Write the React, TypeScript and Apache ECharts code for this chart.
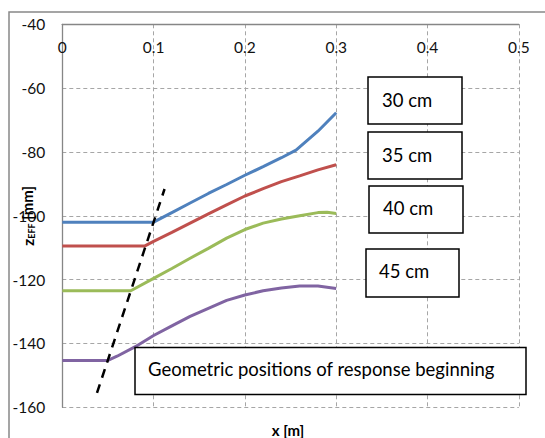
import React, { useEffect, useRef } from "react";
import * as echarts from "echarts";

// x positions [m] and effective depth z_EFF [mm] for each nominal depth
const x30 = [0, 0.1, 0.12, 0.14, 0.16, 0.18, 0.2, 0.22, 0.24, 0.256, 0.28, 0.3];
const z30 = [-102, -102, -99, -96, -93, -90.2, -87.3, -84.6, -81.8, -79.4, -73.5, -67.7];

const x35 = [0, 0.09, 0.1, 0.12, 0.14, 0.16, 0.18, 0.2, 0.22, 0.24, 0.26, 0.28, 0.3];
const z35 = [-109.5, -109.5, -108, -105.2, -102.3, -99.4, -96.6, -93.8, -91.5, -89.3, -87.5, -85.6, -84];

const x40 = [0, 0.075, 0.1, 0.12, 0.14, 0.16, 0.18, 0.2, 0.22, 0.24, 0.26, 0.28, 0.29, 0.3];
const z40 = [-123.5, -123.5, -119.6, -116.5, -113.3, -110.2, -107, -104.3, -102.3, -101, -100, -99, -98.9, -99.3];

const x45 = [0, 0.05, 0.06, 0.08, 0.1, 0.12, 0.14, 0.16, 0.18, 0.2, 0.22, 0.24, 0.26, 0.28, 0.3];
const z45 = [-145.3, -145.3, -144, -141, -137.5, -134.5, -131.5, -129, -126.5, -124.8, -123.5, -122.6, -122, -122, -122.8];

// dashed line: geometric positions of response beginning
const dashX = [0.038, 0.112];
const dashZ = [-155.5, -91.6];

const seriesNames = ["30 cm", "35 cm", "40 cm", "45 cm"];
const seriesColors = ["#4F81BD", "#C0504D", "#9BBB59", "#8064A2"];
const noteText = "Geometric positions of response beginning";

const FONT = "Lato, 'Open Sans', sans-serif";

function pairs(xs: number[], ys: number[]) {
  return xs.map((x, i) => [x, ys[i]]);
}

export default function App() {
  const ref = useRef<HTMLDivElement>(null);
  useEffect(() => {
    if (!ref.current) return;
    const chart = echarts.init(ref.current, null, { renderer: "svg" });
    const dataSets = [pairs(x30, z30), pairs(x35, z35), pairs(x40, z40), pairs(x45, z45)];
    const boxes = [
      { x: 368, y: 77, w: 94, h: 47, tx: 382, ty: 100 },
      { x: 368, y: 132, w: 94, h: 47, tx: 382, ty: 155 },
      { x: 369, y: 186, w: 94, h: 47, tx: 383, ty: 208 },
      { x: 366, y: 249, w: 93, h: 48, tx: 379, ty: 271 },
    ];
    const graphics: any[] = [
      {
        type: "rect",
        z: -10,
        silent: true,
        shape: { x: 9, y: 12, width: 700, height: 600 },
        style: { fill: "none", stroke: "#888888", lineWidth: 1.5 },
      },
    ];
    boxes.forEach((b, i) => {
      graphics.push({
        type: "rect",
        z: 100,
        shape: { x: b.x, y: b.y, width: b.w, height: b.h },
        style: { fill: "#ffffff", stroke: "#000000", lineWidth: 1.5 },
      });
      graphics.push({
        type: "text",
        z: 101,
        x: b.tx,
        y: b.ty,
        style: {
          text: seriesNames[i],
          fontSize: 18.5,
          fontFamily: FONT,
          fill: "#000",
          verticalAlign: "middle",
        },
      });
    });
    graphics.push({
      type: "rect",
      z: 100,
      shape: { x: 135, y: 347.5, width: 391, height: 47 },
      style: { fill: "#ffffff", stroke: "#000000", lineWidth: 1.5 },
    });
    graphics.push({
      type: "text",
      z: 101,
      x: 148,
      y: 369,
      style: { text: noteText, fontSize: 18.5, fontFamily: FONT, fill: "#000", verticalAlign: "middle" },
    });
    graphics.push({
      type: "text",
      z: 101,
      x: 288,
      y: 430,
      style: {
        text: "x [m]",
        fontSize: 15,
        fontWeight: "bold",
        fontFamily: FONT,
        fill: "#000",
        align: "center",
        verticalAlign: "middle",
      },
    });
    graphics.push({
      type: "text",
      z: 101,
      x: 27,
      y: 216,
      rotation: Math.PI / 2,
      style: {
        text: "{z|z}{sub|EFF}{n| [mm]}",
        align: "center",
        verticalAlign: "middle",
        rich: {
          z: { fontSize: 16, fontWeight: "bold", fontFamily: FONT, fill: "#000", verticalAlign: "middle" },
          sub: {
            fontSize: 9,
            fontWeight: "bold",
            fontFamily: FONT,
            fill: "#000",
            padding: [9, 0, 0, 0],
          },
          n: { fontSize: 15, fontWeight: "bold", fontFamily: FONT, fill: "#000" },
        },
      },
    });

    chart.setOption({
      animation: false,
      backgroundColor: "#ffffff",
      grid: {
        left: 62.3,
        top: 24.3,
        width: 456.5,
        height: 383,
        containLabel: false,
        outerBoundsMode: "none",
      },
      xAxis: {
        type: "value",
        position: "top",
        min: 0,
        max: 0.5,
        interval: 0.1,
        axisLine: { show: true, onZero: false, lineStyle: { color: "#868686", width: 1.3 } },
        axisTick: { show: false },
        axisLabel: {
          inside: true,
          margin: 15,
          fontSize: 15.5,
          fontFamily: FONT,
          color: "#111",
        },
        splitLine: { show: true, lineStyle: { color: "#a6a6a6", type: [4, 3], width: 1 } },
      },
      yAxis: {
        type: "value",
        min: -160,
        max: -40,
        interval: 20,
        axisLine: { show: true, onZero: false, lineStyle: { color: "#868686", width: 1.3 } },
        axisTick: { show: false },
        axisLabel: { margin: 17, fontSize: 15.5, fontFamily: FONT, color: "#111" },
        splitLine: { show: true, lineStyle: { color: "#a6a6a6", type: [4, 3], width: 1 } },
      },
      series: [
        ...dataSets.map((d, i) => ({
          type: "line",
          name: seriesNames[i],
          data: d,
          showSymbol: false,
          symbol: "none",
          lineStyle: { color: seriesColors[i], width: 3 },
          z: 3,
        })),
        {
          type: "line",
          name: "response beginning",
          data: pairs(dashX, dashZ),
          showSymbol: false,
          symbol: "none",
          lineStyle: { color: "#000000", width: 2.5, type: [9, 7] },
          z: 4,
        },
      ],
      graphic: graphics,
    });
    return () => chart.dispose();
  }, []);
  return (
    <div
      ref={ref}
      style={{ position: "absolute", left: 0, top: 0, width: 545, height: 438, background: "#fff" }}
    />
  );
}
